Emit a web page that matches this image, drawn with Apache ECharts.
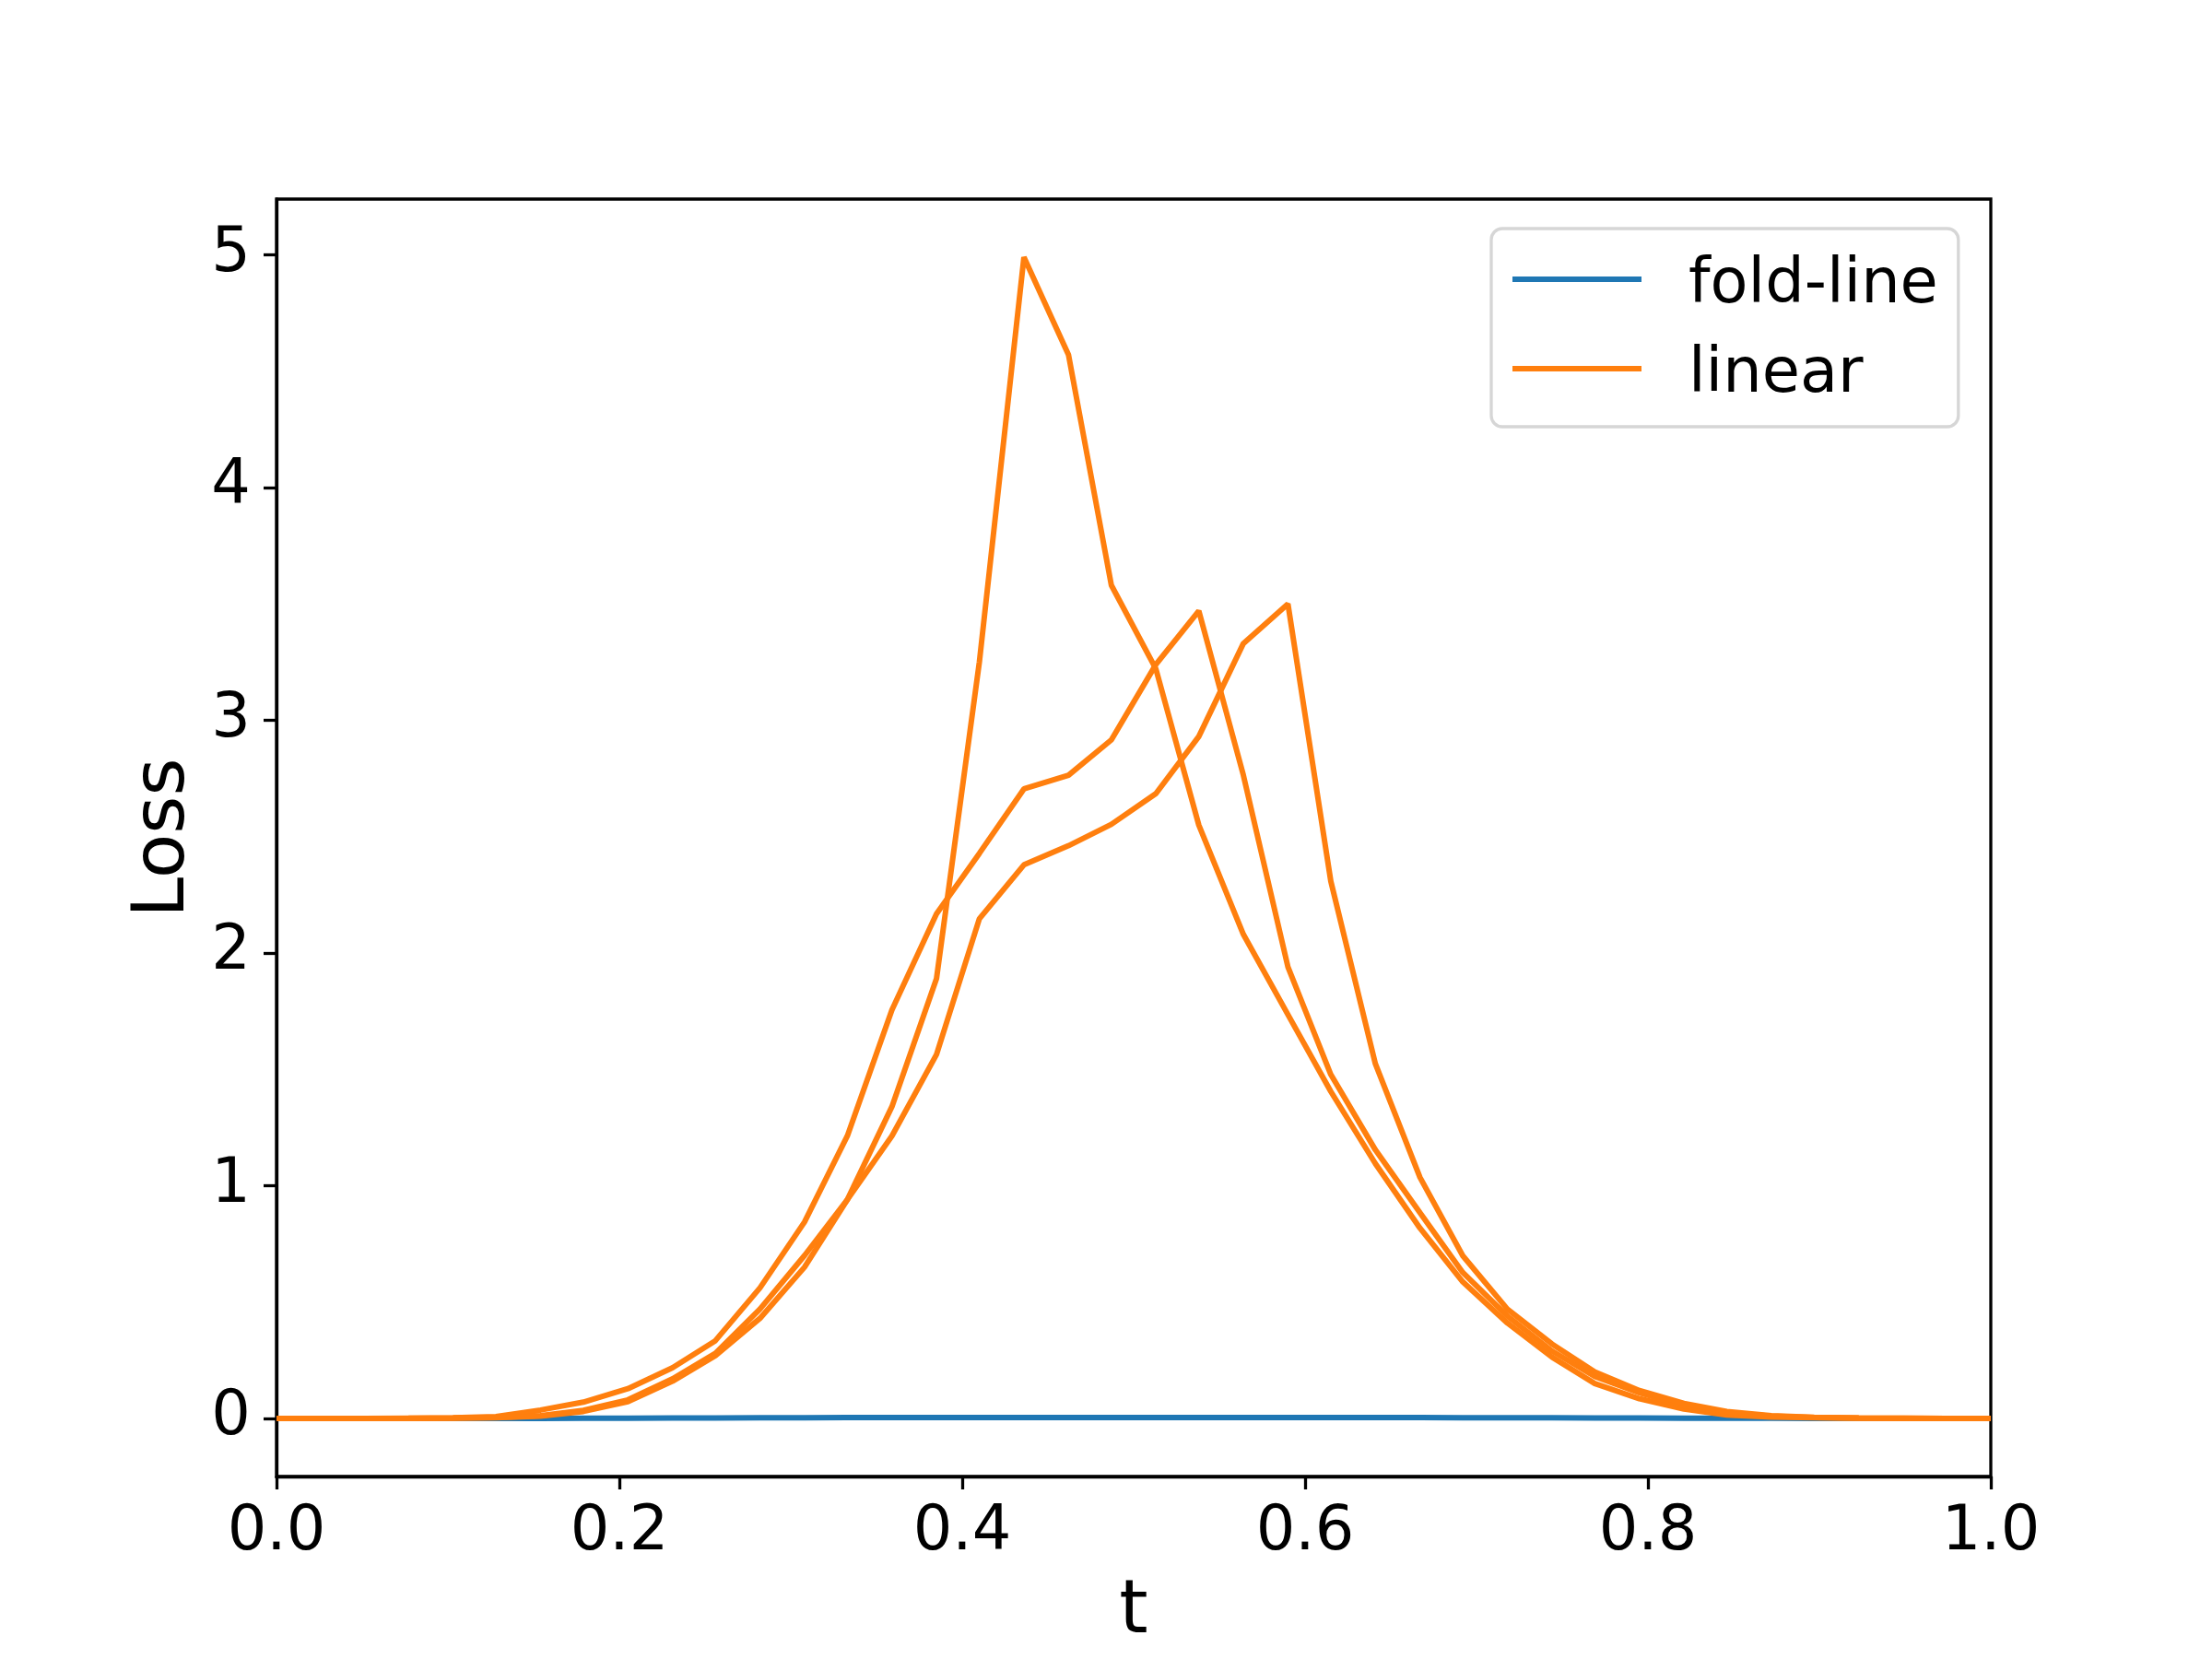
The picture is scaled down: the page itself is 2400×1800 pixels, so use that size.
<!DOCTYPE html>
<html>
<head>
<meta charset="utf-8">
<title>Loss</title>
<script src="https://cdn.jsdelivr.net/npm/echarts@6.0.0/dist/echarts.min.js"></script>
<style>
*{
  margin: 0;
  padding: 0;
}
body{
  background: #fff;
}
#lossChart{
  width: 2400px;
  height: 1800px;
}
</style>
</head>
<body>
<div id="lossChart"></div>
<script>
// t sampled at 40 evenly spaced points in [0, 1]
var tValues = [0.000, 0.026, 0.051, 0.077, 0.103, 0.128, 0.154, 0.179, 0.205, 0.231,
  0.256, 0.282, 0.308, 0.333, 0.359, 0.385, 0.410, 0.436, 0.462, 0.487,
  0.513, 0.538, 0.564, 0.590, 0.615, 0.641, 0.667, 0.692, 0.718, 0.744,
  0.769, 0.795, 0.821, 0.846, 0.872, 0.897, 0.923, 0.949, 0.974, 1.000]

var foldLine = [0, 0, 0, 0, 0, 0, 0, 0.001, 0.001, 0.002,
  0.002, 0.003, 0.003, 0.004, 0.004, 0.004, 0.004, 0.004, 0.004, 0.004,
  0.004, 0.004, 0.004, 0.004, 0.004, 0.004, 0.004, 0.003, 0.003, 0.003,
  0.002, 0.002, 0.001, 0.001, 0.001, 0, 0, 0, 0, 0]

// three runs, all drawn as "linear"
var linearA = [0, 0, 0, 0.001, 0.002, 0.004, 0.012, 0.035, 0.08, 0.17,
  0.28, 0.47, 0.70, 0.94, 1.34, 1.89, 3.25, 4.99, 4.57, 3.58,
  3.22, 2.55, 2.08, 1.735, 1.405, 1.095, 0.818, 0.587, 0.41, 0.264,
  0.15, 0.085, 0.04, 0.015, 0.006, 0.003, 0.001, 0, 0, 0]

var linearB = [0, 0, 0, 0.001, 0.003, 0.008, 0.036, 0.07, 0.128, 0.218,
  0.334, 0.561, 0.844, 1.214, 1.755, 2.168, 2.428, 2.705, 2.764, 2.916,
  3.24, 3.47, 2.764, 1.94, 1.478, 1.154, 0.884, 0.627, 0.44, 0.29,
  0.18, 0.11, 0.055, 0.025, 0.01, 0.004, 0.002, 0.001, 0, 0]

var linearC = [0, 0, 0, 0, 0.001, 0.003, 0.01, 0.03, 0.072, 0.16,
  0.27, 0.43, 0.65, 0.94, 1.214, 1.564, 2.147, 2.379, 2.461, 2.553,
  2.685, 2.93, 3.33, 3.50, 2.309, 1.524, 1.036, 0.699, 0.47, 0.32,
  0.2, 0.12, 0.065, 0.03, 0.012, 0.005, 0.002, 0.001, 0, 0]

var yTicks = [0, 1, 2, 3, 4, 5]
var legendNames = ['fold-line', 'linear']

var FONT = 'DejaVu Sans'
// legend handle: a 6px bar at the top of a 22px box, so the label sits a bit lower
var HANDLE = 'path://M0,0L140,0L140,6L0,6Z M0,22L1,22Z'

function pairs(xs, ys){
  return xs.map(function(x, i){ return [x, ys[i]] })
}

function lineSeries(name, color, ys){
  return {
    name: name,
    type: 'line',
    data: pairs(tValues, ys),
    symbol: 'none',
    lineStyle: { color: color, width: 6 },
    itemStyle: { color: color },
    emphasis: { disabled: true }
  }
}

function draw(){
  var lossChart = echarts.init(document.getElementById('lossChart'))
  var option = {
    animation: false,
    backgroundColor: '#fff',
    grid: {
      left: 300,
      right: 240,
      top: 216,
      bottom: 198,
      show: true,
      borderColor: '#000',
      borderWidth: 3.3,
      backgroundColor: 'transparent'
    },
    legend: {
      data: legendNames,
      orient: 'vertical',
      left: 1618,
      top: 248,
      align: 'left',
      icon: HANDLE,
      itemWidth: 140,
      itemHeight: 22,
      itemGap: 27,
      padding: [28, 22, 20, 23],
      backgroundColor: '#fff',
      borderColor: '#d6d6d6',
      borderWidth: 3.3,
      borderRadius: 12,
      textStyle: {
        fontFamily: FONT,
        fontSize: 67,
        lineHeight: 70,
        color: '#000',
        padding: [0, 0, 0, 46]
      }
    },
    xAxis: {
      type: 'value',
      min: 0,
      max: 1,
      interval: 0.2,
      name: 't',
      nameLocation: 'middle',
      nameGap: 108,
      nameTextStyle: { fontFamily: FONT, fontSize: 80, color: '#000' },
      axisLine: { onZero: false, lineStyle: { color: '#000', width: 3.3 } },
      axisTick: { length: 14, lineStyle: { color: '#000', width: 3.3 } },
      axisLabel: {
        fontFamily: FONT,
        fontSize: 67,
        color: '#000',
        margin: 28,
        formatter: function(v){ return v.toFixed(1) }
      },
      splitLine: { show: false }
    },
    yAxis: {
      type: 'value',
      min: -0.2495,
      max: 5.2395,
      name: 'Loss',
      nameLocation: 'middle',
      nameRotate: 90,
      nameGap: 69,
      nameTextStyle: { fontFamily: FONT, fontSize: 79, color: '#000' },
      axisLine: { show: true, onZero: false, lineStyle: { color: '#000', width: 3.3 } },
      axisTick: { show: true, length: 14, customValues: yTicks, lineStyle: { color: '#000', width: 3.3 } },
      axisLabel: {
        fontFamily: FONT,
        fontSize: 67,
        color: '#000',
        margin: 28,
        customValues: yTicks
      },
      splitLine: { show: false }
    },
    series: [
      lineSeries('fold-line', '#1f77b4', foldLine),
      lineSeries('linear', '#ff7f0e', linearA),
      lineSeries('linear', '#ff7f0e', linearB),
      lineSeries('linear', '#ff7f0e', linearC)
    ]
  }
  lossChart.setOption(option)
}

draw()
</script>
</body>
</html>
